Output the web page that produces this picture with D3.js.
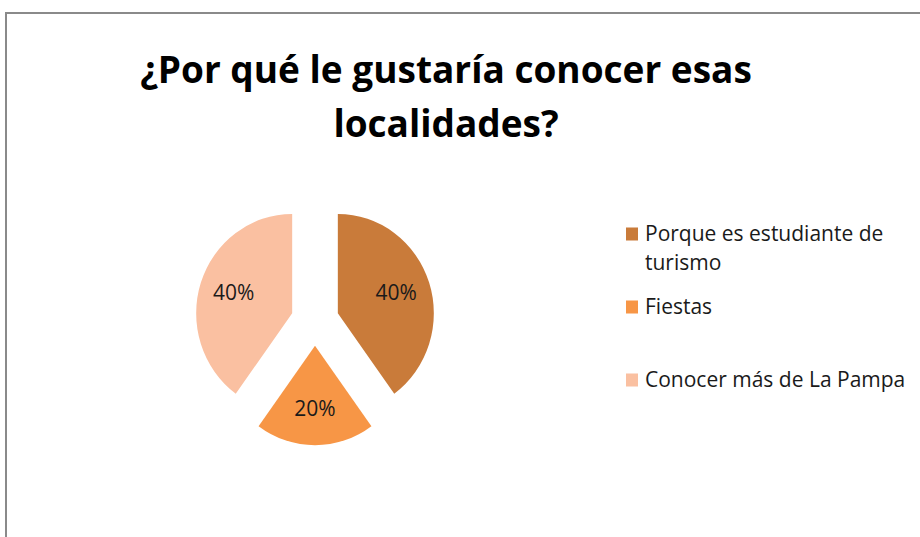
<!DOCTYPE html>
<html>
<head>
<meta charset="utf-8">
<script src="https://cdn.jsdelivr.net/npm/d3@7"></script>
<style>
  body { margin: 0; background: #fff; }
  svg { display: block; }
  text { font-family: "Open Sans", sans-serif; fill: #000; }
  .title { font-weight: bold; font-size: 37px; }
  .pct { font-size: 21px; fill: #1a1a1a; }
  .key { font-size: 21px; fill: #1a1a1a; }
</style>
</head>
<body>
<div id="chart"></div>
<script>
// values
var categories = ["Porque es estudiante de turismo", "Fiestas", "Conocer más de La Pampa"];
var percents = [40, 20, 40];
var colors = ["#C97B3A", "#F79646", "#FAC0A1"];
var titleLines = ["¿Por qué le gustaría conocer esas", "localidades?"];

var width = 920;
var height = 537;

var svg = d3
  .select("#chart")
  .append("svg")
  .attr("width", width)
  .attr("height", height);

// chart border (runs off the right and bottom of the window)
svg
  .append("rect")
  .attr("x", 6)
  .attr("y", 13)
  .attr("width", 940)
  .attr("height", 560)
  .attr("fill", "none")
  .attr("stroke", "#8a8a8a")
  .attr("stroke-width", 2);

//title
svg
  .append("g")
  .selectAll("text")
  .data(titleLines)
  .enter()
  .append("text")
  .attr("class", "title")
  .attr("text-anchor", "middle")
  .attr("x", 446)
  .attr("y", function(d, i) {
    return 83 + i * 54;
  })
  .text(function(d) {
    return d;
  });

//pie
var radius = 96;
var explode = 24;

var pie = d3
  .pie()
  .sort(null)
  .value(function(d) {
    return d;
  });

var arc = d3.arc().innerRadius(0).outerRadius(radius);
var labelArc = d3.arc().innerRadius(radius * 0.64).outerRadius(radius * 0.64);

var pieGroup = svg
  .append("g")
  .attr("transform", "translate(315,321) scale(1,1.035)");

var slices = pieGroup
  .selectAll("g.slice")
  .data(pie(percents))
  .enter()
  .append("g")
  .attr("class", "slice")
  .attr("transform", function(d) {
    var mid = (d.startAngle + d.endAngle) / 2;
    return "translate(" + Math.sin(mid) * explode + "," + -Math.cos(mid) * explode + ")";
  });

slices
  .append("path")
  .attr("d", arc)
  .attr("fill", function(d, i) {
    return colors[i];
  });

slices
  .append("text")
  .attr("class", "pct")
  .attr("text-anchor", "middle")
  .attr("dy", "0.3em")
  .attr("transform", function(d) {
    var c = labelArc.centroid(d);
    return "translate(" + c[0] + "," + c[1] + ") scale(1," + 1 / 1.035 + ")";
  })
  .text(function(d) {
    return d.value + "%";
  });

//legend
var keyY = d3.scalePoint().domain(categories).range([234, 380]);

var keys = svg
  .append("g")
  .selectAll("g")
  .data(categories)
  .enter()
  .append("g")
  .attr("transform", function(d) {
    return "translate(626," + keyY(d) + ")";
  });

keys
  .append("rect")
  .attr("x", 0)
  .attr("y", -6.5)
  .attr("width", 12)
  .attr("height", 13)
  .attr("fill", function(d, i) {
    return colors[i];
  });

keys
  .append("text")
  .attr("class", "key")
  .attr("x", 19)
  .attr("y", 6.5)
  .each(function(d) {
    // wrap long labels
    var el = d3.select(this);
    var words = d.split(" ");
    var line = [];
    var tspan = el.append("tspan").attr("x", 19).attr("dy", 0);
    words.forEach(function(w) {
      line.push(w);
      tspan.text(line.join(" "));
      if (tspan.node().getComputedTextLength() > 275 && line.length > 1) {
        line.pop();
        tspan.text(line.join(" "));
        line = [w];
        tspan = el.append("tspan").attr("x", 19).attr("dy", 29).text(w);
      }
    });
  });
</script>
</body>
</html>
